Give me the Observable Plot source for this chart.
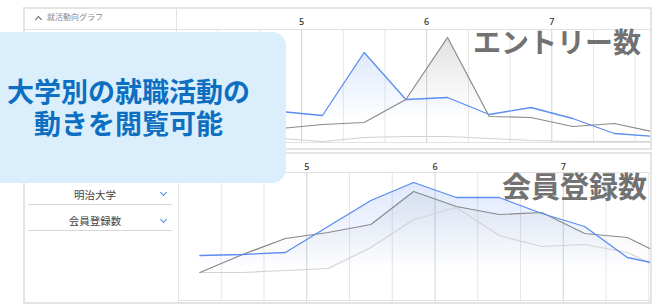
<!DOCTYPE html>
<html><head><meta charset="utf-8">
<script src="https://cdn.jsdelivr.net/npm/d3@7"></script>
<script src="https://cdn.jsdelivr.net/npm/@observablehq/plot@0.6"></script>
<style>
body{margin:0;width:659px;height:304px;background:#fff;position:relative;overflow:hidden;font-family:"Noto Sans CJK JP","Noto Sans",sans-serif;}
.panel{position:absolute;box-sizing:border-box;border:2px solid #e4e4e4;background:#fff;}
.abs{position:absolute;}
.hline{position:absolute;height:1px;background:#e2e2e2;}
.vline{position:absolute;width:1px;background:#e2e2e2;}
.chev{position:absolute;width:4px;height:4px;border-right:1.6px solid #4a8ae8;border-bottom:1.6px solid #4a8ae8;transform:rotate(45deg);}
.up{position:absolute;width:4px;height:4px;border-left:1.5px solid #666;border-top:1.5px solid #666;transform:rotate(45deg);}
.dd{position:absolute;font-size:10.5px;color:#444;text-align:center;line-height:1;}
.big{position:absolute;font-weight:700;color:#727272;line-height:1;white-space:nowrap;}
#overlay{position:absolute;left:-20px;top:32px;width:306px;height:151px;background:#daeefc;border-radius:14px;}
.ov{position:absolute;left:0;width:257px;text-align:center;font-size:27px;line-height:1;font-weight:700;color:#0d6fc1;white-space:nowrap;}
</style></head><body>
<div class="panel" style="left:23px;top:7px;width:629px;height:143px;"></div>
<div class="hline" style="left:25px;top:29px;width:625px;"></div>
<div class="vline" style="left:176px;top:9px;height:139px;"></div>
<div class="up" style="left:36px;top:17px;"></div>
<div class="abs" style="left:47px;top:13px;font-size:8px;color:#888;line-height:1;">就活動向グラフ</div>

<div class="panel" style="left:23px;top:152px;width:629px;height:152px;"></div>
<div class="hline" style="left:25px;top:172px;width:625px;"></div>
<div class="vline" style="left:178px;top:154px;height:148px;"></div>
<div class="dd" style="left:40px;width:110px;top:190px;">明治大学</div>
<div class="chev" style="left:161px;top:190px;"></div>
<div class="hline" style="left:28px;top:204px;width:144px;background:#d6d6d6;"></div>
<div class="dd" style="left:40px;width:110px;top:216px;">会員登録数</div>
<div class="chev" style="left:161px;top:217px;"></div>
<div class="hline" style="left:28px;top:230px;width:144px;background:#d6d6d6;"></div>

<div id="top" class="abs" style="left:176px;top:9px;"></div>
<div id="bottom" class="abs" style="left:178px;top:154px;"></div>

<div class="big" style="left:473px;top:27px;font-size:28px;">エントリー数</div>
<div class="big" style="left:502px;top:171px;font-size:29px;">会員登録数</div>

<div id="overlay"></div>
<div class="ov" style="top:77px;">大学別の就職活動の</div>
<div class="ov" style="top:109px;">動きを閲覧可能</div>

<script>
// ---- data ----
const monthTicks = [3, 6, 9];
const monthLabels = ["5", "6", "7"];
const gridWeeks = [0, 1, 2, 3, 4, 5, 6, 7, 8, 9, 10, 11];
const weeks = [1, 2, 3, 4, 5, 6, 7, 8, 9, 10, 11, 12];

// エントリー数 (top)
const entryBlue  = [32, 30, 31, 27, 90, 43, 45, 28, 35, 24, 9, 6];
const entryGray  = [16, 15, 14, 18, 20, 43, 105, 26, 25, 16, 19, 10];
const entryLight = [3, 3, 4, 1, 5, 6, 6, 4, 2, 1, 1, 1];

// 会員登録数 (bottom)
const memberBlue  = [45, 46, 48, 74, 100, 118, 103, 103, 87, 74, 43, 34];
const memberGray  = [28, 46, 62, 68, 76, 109, 94, 86, 88, 67, 63, 42];
const memberLight = [28, 28, 30, 32, 53, 81, 93, 65, 54, 56, 48, 28];

const BLUE = "#5b8ef0", GRAY = "#8a8a8a", LIGHT = "#d3d3d3";

function rows(vals) { return weeks.map((w, i) => ({week: w - 0.5, value: vals[i]})); }

function makeChart({width, height, mTop, mBottom, xMax, yMax, blue, gray, light, labelDy, gid, bOp, gOp}) {
  const svg = Plot.plot({
    width, height,
    marginLeft: 0, marginRight: 0, marginTop: mTop, marginBottom: mBottom,
    x: {domain: [0, xMax], axis: null},
    y: {domain: [0, yMax], axis: null},
    style: {fontFamily: "'Noto Sans', sans-serif", background: "transparent", overflow: "visible"},
    marks: [
      Plot.ruleX(gridWeeks, {x: d => d, stroke: d => monthTicks.includes(d) ? "#cfd3d8" : "#e6e6e6", strokeWidth: 1, insetBottom: mBottom > 3 ? 0 : -2}),
      Plot.ruleY([0], {stroke: "#e2e2e2"}),
      Plot.areaY(rows(gray), {x: "week", y: "value", fill: `url(#${gid}g)`, clip: true}),
      Plot.areaY(rows(blue), {x: "week", y: "value", fill: `url(#${gid}b)`, clip: true}),
      Plot.lineY(rows(light), {x: "week", y: "value", stroke: LIGHT, strokeWidth: 1.2, clip: true}),
      Plot.lineY(rows(gray), {x: "week", y: "value", stroke: GRAY, strokeWidth: 1.2, clip: true}),
      Plot.lineY(rows(blue), {x: "week", y: "value", stroke: BLUE, strokeWidth: 1.3, clip: true}),
      Plot.text(monthTicks, {x: d => d, text: (d, i) => monthLabels[i], frameAnchor: "top", dy: labelDy, fill: "#333", fontSize: 9, fontWeight: 500})
    ]
  });
  svg.insertAdjacentHTML("afterbegin",
    `<defs>
      <linearGradient id="${gid}b" x1="0" y1="0" x2="0" y2="1">
        <stop offset="0" stop-color="${BLUE}" stop-opacity="${bOp}"/>
        <stop offset="0.75" stop-color="${BLUE}" stop-opacity="0"/>
      </linearGradient>
      <linearGradient id="${gid}g" x1="0" y1="0" x2="0" y2="1">
        <stop offset="0" stop-color="#777" stop-opacity="${gOp}"/>
        <stop offset="0.7" stop-color="#777" stop-opacity="0"/>
      </linearGradient>
    </defs>`);
  return svg;
}

document.getElementById("top").append(makeChart({
  width: 474, height: 139, mTop: 20, mBottom: 6, xMax: 474 / 41.7, yMax: 113,
  blue: entryBlue, gray: entryGray, light: entryLight, labelDy: -11, gid: "t", bOp: 0.2, gOp: 0.22
}));
document.getElementById("bottom").append(makeChart({
  width: 472, height: 148, mTop: 18, mBottom: 2, xMax: 472 / 42.75, yMax: 128,
  blue: memberBlue, gray: memberGray, light: memberLight, labelDy: -9, gid: "m", bOp: 0.2, gOp: 0.1
}));
</script>
</body></html>
